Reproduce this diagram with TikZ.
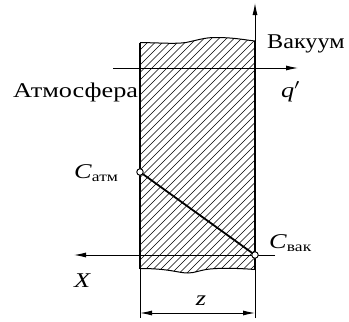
\documentclass[tikz,border=0pt]{standalone}
\usepackage{fontspec}
\setmainfont{Liberation Serif}
\usetikzlibrary{arrows.meta}
\newcommand{\wide}[2][1.25]{\scalebox{#1}[1]{#2}}
\begin{document}
\begin{tikzpicture}[x=1pt,y=-1pt,
  thinline/.style={line width=0.9pt},
  wall/.style={line width=2pt},
  axisarrow/.style={line width=0.9pt,-{Latex[length=12pt,width=5pt]}},
  dimarrow/.style={line width=0.9pt,{Latex[length=12pt,width=5pt]}-{Latex[length=12pt,width=5pt]}},
  pt/.style={circle,draw,line width=0.9pt,fill=white,inner sep=0pt,minimum size=6.5pt},
  lbl/.style={font=\fontsize{21}{24}\selectfont,inner sep=0pt}
]
\useasboundingbox (0,0) rectangle (349,322);
% hatched region
\begin{scope}
  \clip (140,42.5) .. controls (165,43) and (175,44) .. (186,42.5)
        .. controls (198,40) and (205,37.5) .. (215,37.5)
        .. controls (235,37.5) and (245,40) .. (255,41)
        -- (255,269.5) .. controls (235,268) and (220,268) .. (210,269)
        .. controls (200,270) and (195,273) .. (188,273)
        .. controls (178,273) and (170,268.5) .. (140,268.5) -- cycle;
  \foreach \s in {-140,-132.5,...,280}
    \draw[line width=0.7pt] (\s,300) -- (\s+300,0);
\end{scope}
% wavy edges
\draw[line width=1pt] (140,42.5) .. controls (165,43) and (175,44) .. (186,42.5)
        .. controls (198,40) and (205,37.5) .. (215,37.5)
        .. controls (235,37.5) and (245,40) .. (255,41);
\draw[line width=1pt] (255,269.5) .. controls (235,268) and (220,268) .. (210,269)
        .. controls (200,270) and (195,273) .. (188,273)
        .. controls (178,273) and (170,268.5) .. (140,268.5);
% walls
\coordinate (lt) at (140,42.5);
\coordinate (lb) at (140,268.5);
\coordinate (rt) at (255,41);
\coordinate (rb) at (255,269.5);
\draw[wall] (lt) -- (lb);
\draw[wall] (rt) -- (rb);
% axes
\coordinate (vbot) at (255,318);
\coordinate (vtop) at (255,3);
\draw[axisarrow] (vbot) -- (vtop);
\coordinate (lext) at (140,318);
\draw[thinline] (lb) -- (lext);
\coordinate (qs) at (113,68);
\coordinate (qe) at (298,68);
\draw[axisarrow] (qs) -- (qe);
\coordinate (xs) at (275,255);
\coordinate (xe) at (74,255);
\draw[axisarrow] (xs) -- (xe);
\coordinate (da) at (140,313);
\coordinate (db) at (255,313);
\draw[dimarrow] (da) -- (db);
% concentration line
\node[pt] (catm) at (140,172) {};
\node[pt] (cvak) at (255,255) {};
\draw[line width=1.8pt] (catm) -- (cvak);
% labels
\node[lbl,anchor=base west] (vak) at (267,48) {\wide[1.15]{Вакуум}};
\node[lbl,anchor=base west] (atm) at (13,97) {\wide{Атмосфера}};
\node[lbl,anchor=base west] (q) at (281,97) {\wide{\textit{q}$'$}};
\node[lbl,anchor=base west] (ca) at (74,178) {\wide{\textit{C}\raisebox{-3pt}{\fontsize{14}{14}\selectfont атм}}};
\node[lbl,anchor=base west] (cv) at (269,248) {\wide{\textit{C}\raisebox{-3pt}{\fontsize{14}{14}\selectfont вак}}};
\node[lbl,anchor=base west] (xl) at (74,287) {\wide{\textit{X}}};
\node[lbl,anchor=base] (zl) at (201,305) {\wide{\textit{z}}};
\end{tikzpicture}
\end{document}
